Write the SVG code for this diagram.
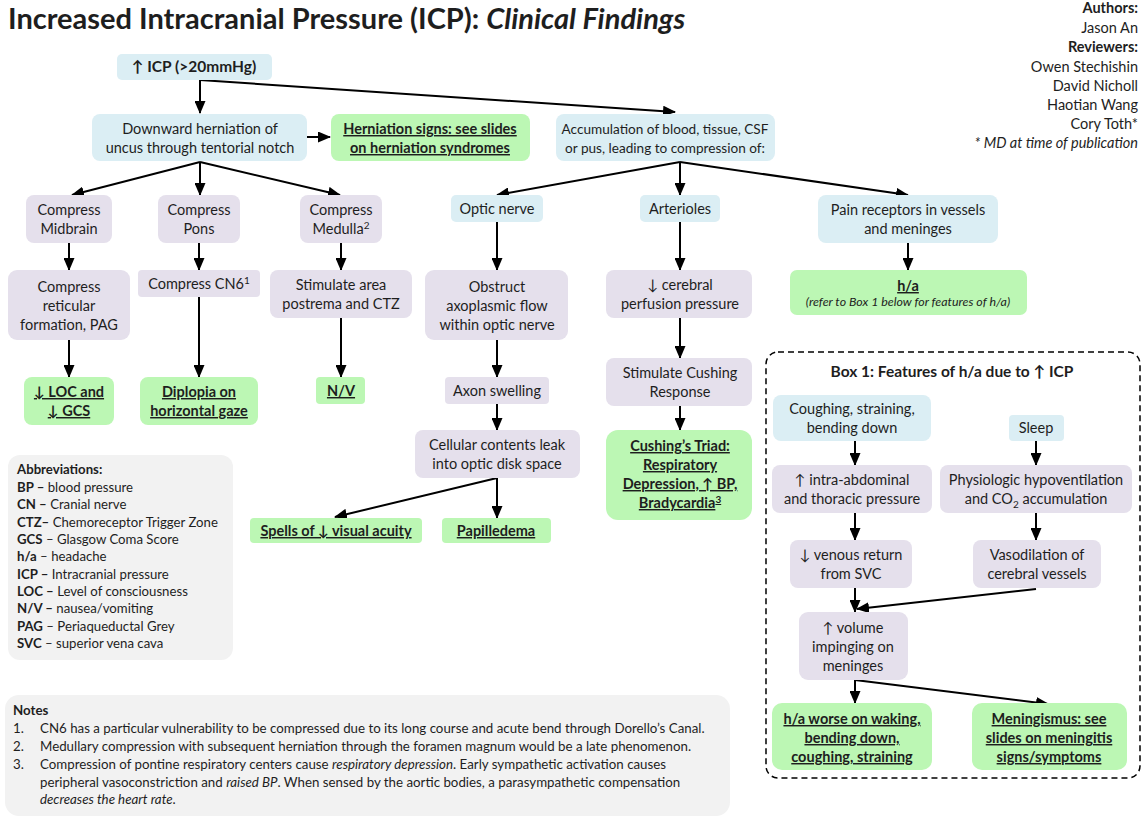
<svg xmlns="http://www.w3.org/2000/svg" width="1143" height="822" viewBox="0 0 1143 822">
<style>
text{font-family:Lato,"Open Sans","DejaVu Sans",sans-serif;fill:#1e1e1e}
.t{font-size:14.5px;text-anchor:middle}
.b{font-weight:bold}
.u{font-weight:bold;text-decoration:underline}
.i{font-style:italic}
.blue{fill:#dbeef4}
.lav{fill:#e5e0ec}
.grn{fill:#bcf7b4}
.gry{fill:#f2f2f2}
.ln{stroke:#000;stroke-width:2;fill:none;marker-end:url(#ah)}
.au{font-size:14.5px;text-anchor:end}
.ab{font-size:13.2px}
.nt{font-size:13.3px}
</style>
<defs>
<marker id="ah" markerUnits="userSpaceOnUse" markerWidth="13" markerHeight="11" refX="12" refY="5.5" orient="auto">
<path d="M0,0 L13,5.5 L0,11 z" fill="#000"/>
</marker>
</defs>
<rect width="1143" height="822" fill="#fff"/>
<g id="title">
<text x="8" y="29" style="font-size:29px;font-weight:bold">Increased Intracranial Pressure (ICP): <tspan class="i">Clinical Findings</tspan></text>
</g>
<g id="authors">
<text class="au b" x="1138" y="13">Authors:</text>
<text class="au" x="1138" y="33">Jason An</text>
<text class="au b" x="1138" y="52">Reviewers:</text>
<text class="au" x="1138" y="72">Owen Stechishin</text>
<text class="au" x="1138" y="91">David Nicholl</text>
<text class="au" x="1138" y="110">Haotian Wang</text>
<text class="au" x="1138" y="129">Cory Toth*</text>
<text class="au i" x="1138" y="148">* MD at time of publication</text>
</g>
<g id="connectors">
<path class="ln" d="M200,80 L200,113"/>
<path class="ln" d="M200,80 L675,112"/>
<path class="ln" d="M307,137 L330,137"/>
<path class="ln" d="M200,162 L72,195"/>
<path class="ln" d="M200,162 L200,195"/>
<path class="ln" d="M200,162 L340,195"/>
<path class="ln" d="M680,162 L497,195"/>
<path class="ln" d="M680,162 L680,195"/>
<path class="ln" d="M680,162 L908,195"/>
<path class="ln" d="M69,243 L69,270"/>
<path class="ln" d="M199,243 L199,270"/>
<path class="ln" d="M341,243 L341,270"/>
<path class="ln" d="M497,222 L497,270"/>
<path class="ln" d="M680,222 L680,270"/>
<path class="ln" d="M908,243 L908,270"/>
<path class="ln" d="M69,340 L69,377"/>
<path class="ln" d="M199,297 L199,377"/>
<path class="ln" d="M341,318 L341,377"/>
<path class="ln" d="M497,340 L497,377"/>
<path class="ln" d="M497,404 L497,430"/>
<path class="ln" d="M680,318 L680,358"/>
<path class="ln" d="M680,406 L680,430"/>
<path class="ln" d="M497,478 L497,518"/>
<path class="ln" d="M497,478 L335,517"/>
<path class="ln" d="M855,441 L855,465"/>
<path class="ln" d="M1036,441 L1036,465"/>
<path class="ln" d="M855,513 L855,540"/>
<path class="ln" d="M1036,513 L1036,540"/>
<path class="ln" d="M855,588 L855,612"/>
<path class="ln" d="M1036,589 L857,609"/>
<path class="ln" d="M855,680 L855,703"/>
<path class="ln" d="M855,680 L1048,704"/>
</g>
<g id="n-icp"><rect class="blue" x="117" y="54" width="155" height="26" rx="5"/><text class="t b" x="194" y="72" style="font-size:15.5px">↑ ICP (&gt;20mmHg)</text></g>
<g id="n-downward"><rect class="blue" x="92" y="114" width="215" height="47" rx="8"/><text class="t" x="200" y="134">Downward herniation of</text><text class="t" x="200" y="153">uncus through tentorial notch</text></g>
<g id="n-herniation-signs"><rect class="grn" x="331" y="114" width="199" height="47" rx="8"/><text class="t u" x="430" y="134">Herniation signs: see slides</text><text class="t u" x="430" y="153">on herniation syndromes</text></g>
<g id="n-accumulation"><rect class="blue" x="556" y="114" width="219" height="47" rx="8"/><text class="t" x="665" y="134" style="font-size:13.6px">Accumulation of blood, tissue, CSF</text><text class="t" x="665" y="153" style="font-size:13.6px">or pus, leading to compression of:</text></g>
<g id="n-midbrain"><rect class="lav" x="26" y="195" width="86" height="48" rx="8"/><text class="t" x="69" y="215">Compress</text><text class="t" x="69" y="234">Midbrain</text></g>
<g id="n-pons"><rect class="lav" x="158" y="195" width="82" height="48" rx="8"/><text class="t" x="199" y="215">Compress</text><text class="t" x="199" y="234">Pons</text></g>
<g id="n-medulla"><rect class="lav" x="300" y="195" width="82" height="48" rx="8"/><text class="t" x="341" y="215">Compress</text><text class="t" x="341" y="234">Medulla<tspan font-size="10" dy="-5">2</tspan></text></g>
<g id="n-optic"><rect class="blue" x="451" y="195" width="92" height="27" rx="5"/><text class="t" x="497" y="214">Optic nerve</text></g>
<g id="n-arterioles"><rect class="blue" x="640" y="195" width="80" height="27" rx="5"/><text class="t" x="680" y="214">Arterioles</text></g>
<g id="n-pain"><rect class="blue" x="818" y="195" width="180" height="48" rx="8"/><text class="t" x="908" y="215">Pain receptors in vessels</text><text class="t" x="908" y="234">and meninges</text></g>
<g id="n-reticular"><rect class="lav" x="8" y="270" width="122" height="70" rx="9"/><text class="t" x="69" y="292">Compress</text><text class="t" x="69" y="311">reticular</text><text class="t" x="69" y="330">formation, PAG</text></g>
<g id="n-cn6"><rect class="lav" x="138" y="270" width="122" height="27" rx="4"/><text class="t" x="199" y="289">Compress CN6<tspan font-size="10" dy="-5">1</tspan></text></g>
<g id="n-postrema"><rect class="lav" x="270" y="270" width="142" height="48" rx="8"/><text class="t" x="341" y="290">Stimulate area</text><text class="t" x="341" y="309">postrema and  CTZ</text></g>
<g id="n-obstruct"><rect class="lav" x="425" y="270" width="143" height="70" rx="9"/><text class="t" x="497" y="292">Obstruct</text><text class="t" x="497" y="311">axoplasmic flow</text><text class="t" x="497" y="330">within optic nerve</text></g>
<g id="n-perfusion"><rect class="lav" x="606" y="270" width="146" height="48" rx="8"/><text class="t" x="680" y="290">↓ cerebral</text><text class="t" x="680" y="309">perfusion pressure</text></g>
<g id="n-ha"><rect class="grn" x="790" y="270" width="237" height="45" rx="7"/><text class="t u" x="908" y="291">h/a</text><text class="t i" x="908" y="306" style="font-size:12.4px">(refer to Box 1 below for features of h/a)</text></g>
<g id="n-loc"><rect class="grn" x="24" y="377" width="90" height="48" rx="8"/><text class="t u" x="69" y="397">↓ LOC and</text><text class="t u" x="69" y="416">↓ GCS</text></g>
<g id="n-diplopia"><rect class="grn" x="140" y="377" width="118" height="48" rx="8"/><text class="t u" x="199" y="397">Diplopia on</text><text class="t u" x="199" y="416">horizontal gaze</text></g>
<g id="n-nv"><rect class="grn" x="316" y="377" width="49" height="27" rx="4"/><text class="t u" x="341" y="396">N/V</text></g>
<g id="n-axon"><rect class="lav" x="445" y="377" width="104" height="27" rx="4"/><text class="t" x="497" y="396">Axon swelling</text></g>
<g id="n-cushing-response"><rect class="lav" x="606" y="358" width="146" height="48" rx="8"/><text class="t" x="680" y="378">Stimulate Cushing</text><text class="t" x="680" y="397">Response</text></g>
<g id="n-cellular"><rect class="lav" x="415" y="430" width="165" height="48" rx="8"/><text class="t" x="497" y="450">Cellular contents leak</text><text class="t" x="497" y="469">into optic disk space</text></g>
<g id="n-triad"><rect class="grn" x="606" y="430" width="146" height="90" rx="12"/><text class="t u" x="680" y="451">Cushing’s Triad:</text><text class="t u" x="680" y="470">Respiratory</text><text class="t u" x="680" y="489">Depression, ↑ BP,</text><text class="t u" x="680" y="508">Bradycardia<tspan font-size="10" dy="-5">3</tspan></text></g>
<g id="n-spells"><rect class="grn" x="250" y="518" width="172" height="25" rx="4"/><text class="t u" x="336" y="536">Spells of ↓ visual acuity</text></g>
<g id="n-papilledema"><rect class="grn" x="442" y="518" width="109" height="25" rx="4"/><text class="t u" x="496" y="536">Papilledema</text></g>
<g id="abbreviations">
<rect class="gry" x="8" y="455" width="225" height="205" rx="12"/>
<text class="ab" x="17" y="474"><tspan font-weight="bold">Abbreviations:</tspan></text>
<text class="ab" x="17" y="492"><tspan font-weight="bold">BP –</tspan> blood pressure</text>
<text class="ab" x="17" y="509"><tspan font-weight="bold">CN –</tspan> Cranial nerve</text>
<text class="ab" x="17" y="527"><tspan font-weight="bold">CTZ–</tspan> Chemoreceptor Trigger Zone</text>
<text class="ab" x="17" y="544"><tspan font-weight="bold">GCS</tspan> – Glasgow Coma Score</text>
<text class="ab" x="17" y="561"><tspan font-weight="bold">h/a</tspan> – headache</text>
<text class="ab" x="17" y="579"><tspan font-weight="bold">ICP –</tspan> Intracranial pressure</text>
<text class="ab" x="17" y="596"><tspan font-weight="bold">LOC –</tspan> Level of consciousness</text>
<text class="ab" x="17" y="613"><tspan font-weight="bold">N/V –</tspan> nausea/vomiting</text>
<text class="ab" x="17" y="631"><tspan font-weight="bold">PAG</tspan> – Periaqueductal Grey</text>
<text class="ab" x="17" y="648"><tspan font-weight="bold">SVC</tspan> – superior vena cava</text>
</g>
<g id="notes">
<rect class="gry" x="5" y="695" width="725" height="121" rx="14"/>
<text class="nt b" x="13" y="715">Notes</text>
<text class="nt" x="13" y="733">1.</text>
<text class="nt" x="40" y="733">CN6 has a particular vulnerability to be compressed due to its long course and acute bend through Dorello’s Canal.</text>
<text class="nt" x="13" y="751">2.</text>
<text class="nt" x="40" y="751">Medullary compression with subsequent herniation through the foramen magnum would be a late phenomenon.</text>
<text class="nt" x="13" y="769">3.</text>
<text class="nt" x="40" y="769">Compression of pontine respiratory centers cause <tspan class="i">respiratory depression</tspan>. Early sympathetic activation causes</text>
<text class="nt" x="40" y="787">peripheral vasoconstriction and <tspan class="i">raised BP</tspan>. When sensed by the aortic bodies, a parasympathetic compensation</text>
<text class="nt" x="40" y="804"><tspan class="i">decreases the heart rate</tspan>.</text>
</g>
<g id="box1">
<rect x="766" y="352" width="374" height="426" rx="12" fill="none" stroke="#000" stroke-width="1.5" stroke-dasharray="6,4"/>
<text class="t b" x="952" y="377" style="font-size:15.5px">Box 1: Features of h/a due to ↑ ICP</text>
</g>
<g id="n-coughing"><rect class="blue" x="773" y="395" width="158" height="46" rx="8"/><text class="t" x="852" y="414">Coughing, straining,</text><text class="t" x="852" y="433">bending down</text></g>
<g id="n-sleep"><rect class="blue" x="1009" y="415" width="55" height="26" rx="4"/><text class="t" x="1036" y="433">Sleep</text></g>
<g id="n-intraabdominal"><rect class="lav" x="772" y="465" width="160" height="48" rx="8"/><text class="t" x="852" y="485">↑ intra-abdominal</text><text class="t" x="852" y="504">and thoracic pressure</text></g>
<g id="n-hypoventilation"><rect class="lav" x="940" y="465" width="192" height="48" rx="8"/><text class="t" x="1036" y="485">Physiologic hypoventilation</text><text class="t" x="1036" y="504">and CO<tspan font-size="10" dy="4">2</tspan><tspan dy="-4"> accumulation</tspan></text></g>
<g id="n-venous"><rect class="lav" x="790" y="540" width="122" height="48" rx="8"/><text class="t" x="851" y="560">↓ venous return</text><text class="t" x="851" y="579">from SVC</text></g>
<g id="n-vasodilation"><rect class="lav" x="973" y="540" width="128" height="48" rx="8"/><text class="t" x="1037" y="560">Vasodilation of</text><text class="t" x="1037" y="579">cerebral vessels</text></g>
<g id="n-volume"><rect class="lav" x="799" y="612" width="109" height="68" rx="9"/><text class="t" x="853" y="633">↑ volume</text><text class="t" x="853" y="652">impinging on</text><text class="t" x="853" y="671">meninges</text></g>
<g id="n-worse"><rect class="grn" x="772" y="703" width="160" height="67" rx="10"/><text class="t u" x="852" y="724">h/a worse on waking,</text><text class="t u" x="852" y="743">bending down,</text><text class="t u" x="852" y="762">coughing, straining</text></g>
<g id="n-meningismus"><rect class="grn" x="972" y="703" width="155" height="67" rx="10"/><text class="t u" x="1049" y="724">Meningismus: see</text><text class="t u" x="1049" y="743">slides on meningitis</text><text class="t u" x="1049" y="762">signs/symptoms</text></g>
</svg>
